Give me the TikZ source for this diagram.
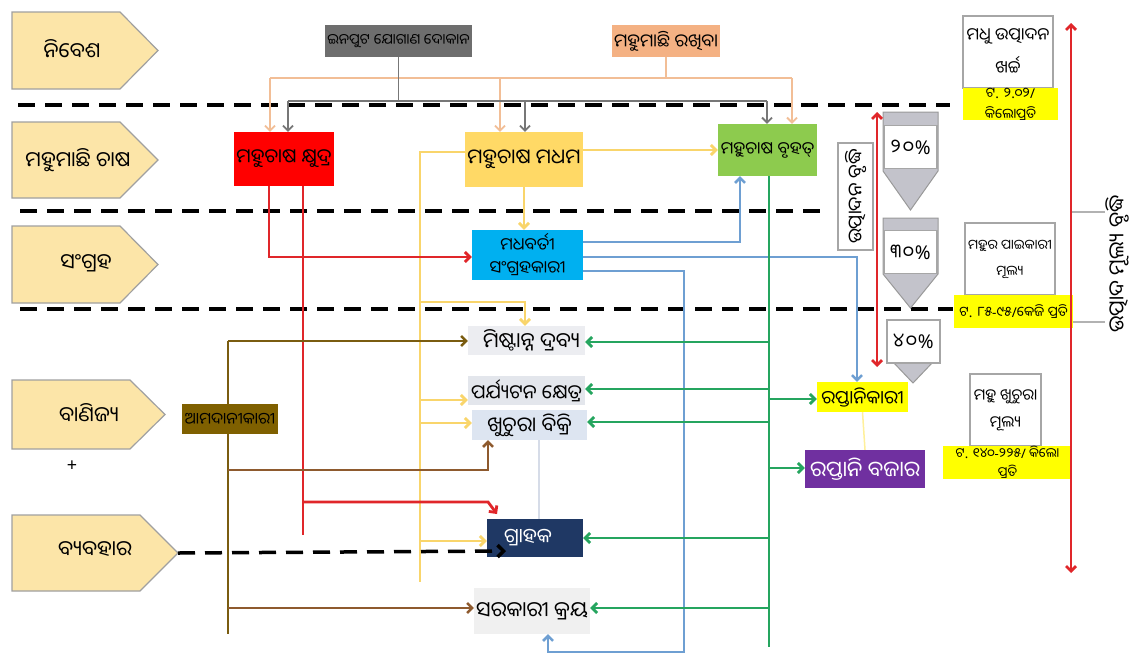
\documentclass[tikz,border=0pt]{standalone}
\usepackage{fontspec}
\setmainfont{Noto Sans}
\newfontfamily\od[Script=Oriya]{Noto Sans Oriya UI}
\newfontfamily\lat{Noto Sans}
\usetikzlibrary{arrows.meta}
\pgfdeclarelayer{bg}
\pgfsetlayers{bg,main}
\newcommand\fsz[2]{\fontsize{#1}{#2}\selectfont}
\newcommand\Ppct{{\lat\%}}
\newcommand\Pdot{{\lat.}}
\newcommand\Psl{{\lat/}}
\newcommand\Phy{{\lat-}}
\definecolor{pentfill}{HTML}{FCE5A8}
\definecolor{pentdraw}{HTML}{A0A0A0}
\definecolor{cinp}{HTML}{6E6E6E}
\definecolor{ckeep}{HTML}{F4B183}
\definecolor{cred}{HTML}{FF0000}
\definecolor{cmed}{HTML}{FFD966}
\definecolor{clarge}{HTML}{8DCB4E}
\definecolor{ccoll}{HTML}{00B0F0}
\definecolor{cmist}{HTML}{ECEDF1}
\definecolor{ctour}{HTML}{E3E6EC}
\definecolor{cret}{HTML}{DDE5F1}
\definecolor{cgrahak}{HTML}{1F3864}
\definecolor{cgovt}{HTML}{F0F0F0}
\definecolor{cimp}{HTML}{7F6000}
\definecolor{cexp}{HTML}{FFFF00}
\definecolor{cexpm}{HTML}{7030A0}
\definecolor{cchev}{HTML}{C3C3CB}
\definecolor{lorange}{HTML}{F2BE96}
\definecolor{lgray}{HTML}{777777}
\definecolor{lyel}{HTML}{F9D56B}
\definecolor{lred}{HTML}{E0262A}
\definecolor{lgreen}{HTML}{25A55F}
\definecolor{lblue}{HTML}{6E9FD2}
\definecolor{lolive}{HTML}{7A5C10}
\definecolor{lbrown}{HTML}{8E5A2E}
\definecolor{llight}{HTML}{D6DCE8}
\definecolor{llyel}{HTML}{FFF09A}
\begin{document}
\begin{tikzpicture}[x=1pt,y=-1pt,
  >={Straight Barb[length=5pt,width=10pt]},
  pent/.style={fill=pentfill,draw=pentdraw,line width=1.2pt},
  lbl/.style={font=\od\fsz{21}{25},inner sep=0pt},
  bx/.style={inner sep=0pt,align=center},
  wbox/.style={bx,draw=gray!70,line width=1.2pt,fill=white},
  ybox/.style={bx,fill=cexp},
  dsh/.style={line width=3.5pt,dash pattern=on 17pt off 10pt},
  orl/.style={draw=lorange,line width=1.8pt},
  gyl/.style={draw=lgray,line width=1.8pt},
  yl/.style={draw=lyel,line width=2.8pt},
  rdl/.style={draw=lred,line width=2.8pt},
  gnl/.style={draw=lgreen,line width=2.8pt},
  bll/.style={draw=lblue,line width=2.5pt},
  oll/.style={draw=lolive,line width=2.5pt},
  brl/.style={draw=lbrown,line width=2.5pt},
  chev/.style={fill=cchev,draw=gray!80,line width=1pt},
]
\useasboundingbox (0,0) rectangle (1142,659);
\begin{pgfonlayer}{bg}
\fill[white] (0,0) rectangle (1142,659);
\end{pgfonlayer}

% left stage labels
\draw[pent] (12,12) -- (120,12) -- (158,50.5) -- (120,89) -- (12,89) -- cycle;
\draw[pent] (12,122) -- (120,122) -- (158,160) -- (120,198) -- (12,198) -- cycle;
\draw[pent] (12,226) -- (120,226) -- (158,264.5) -- (120,303) -- (12,303) -- cycle;
\draw[pent] (12,380) -- (130,380) -- (165,414.5) -- (130,449) -- (12,449) -- cycle;
\draw[pent] (12,515) -- (140,515) -- (178,553) -- (140,591) -- (12,591) -- cycle;
\coordinate (p5tip) at (178,553);
\node[lbl] (n1) at (72,50) {ନିବେଶ};
\node[lbl] (n2) at (78,160) {ମହୁମାଛି ଚାଷ};
\node[lbl] (n3) at (86,263) {ସଂଗ୍ରହ};
\node[lbl] (n4) at (89,413) {ବାଣିଜ୍ୟ};
\node[lbl] (n5) at (95,550) {ବ୍ୟବହାର};
\node[font=\lat\fsz{18}{20}] (plus) at (72,466) {+};

% nodes
\node[bx,fill=cinp,minimum width=147pt,minimum height=32pt,font=\od\fsz{14.5}{17}] (inp) at (398.5,41) {ଇନପୁଟ ଯୋଗାଣ ଦୋକାନ};
\node[bx,fill=ckeep,minimum width=108pt,minimum height=32pt,font=\od\fsz{18}{21}] (keep) at (666,41) {ମହୁମାଛି ରଖିବା};
\node[bx,fill=cred,minimum width=100pt,minimum height=54pt,font=\od\fsz{19.5}{23}] (small) at (284,159) {ମହୁଚାଷ କ୍ଷୁଦ୍ର};
\node[bx,fill=cmed,minimum width=118pt,minimum height=55pt,font=\od\fsz{20.5}{24}] (med) at (524,159.5) {ମହୁଚାଷ ମଧମ};
\node[bx,fill=clarge,minimum width=99pt,minimum height=52pt,font=\od\fsz{17}{20}] (large) at (767.5,150) {ମହୁଚାଷ ବୃହତ୍};
\node[bx,fill=ccoll,minimum width=111pt,minimum height=50pt,font=\od\fsz{17}{23}] (coll) at (527.5,255) {ମଧବର୍ତୀ\\ସଂଗ୍ରହକାରୀ};
\node[bx,fill=cmist,minimum width=117pt,minimum height=29pt,font=\od\fsz{21}{24}] (mist) at (526.5,340.5) {\hspace*{10pt}ମିଷ୍ଟାନ୍ନ ଦ୍ରବ୍ୟ};
\node[bx,fill=ctour,minimum width=117pt,minimum height=29pt,font=\od\fsz{19.5}{23}] (tour) at (526.5,390.5) {ପର୍ଯ୍ୟଟନ କ୍ଷେତ୍ର};
\node[bx,fill=cret,minimum width=115pt,minimum height=30pt,font=\od\fsz{20.5}{24}] (ret) at (529.5,425) {ଖୁଚୁରା ବିକ୍ରି};
\node[bx,fill=cgrahak,minimum width=96pt,minimum height=38pt,font=\od\fsz{20}{23},text=white] (grahak) at (535,538) {ଗ୍ରାହକ\hspace*{14pt}};
\node[bx,fill=cgovt,minimum width=116pt,minimum height=46pt,font=\od\fsz{21}{24}] (govt) at (532,611) {ସରକାରୀ କ୍ରୟ};
\node[bx,fill=cimp,minimum width=96pt,minimum height=30pt,font=\od\fsz{16}{19}] (imp) at (230,419) {ଆମଦାନୀକାରୀ};
\node[bx,fill=cexp,minimum width=91pt,minimum height=30pt,font=\od\fsz{18.5}{22}] (exp) at (862.5,397) {ରପ୍ତାନିକାରୀ};
\node[bx,fill=cexpm,minimum width=120pt,minimum height=38pt,font=\od\fsz{21.5}{25},text=white] (expm) at (865,469) {ରପ୍ତାନି ବଜାର};

% right info boxes
\node[wbox,minimum width=90pt,minimum height=72pt,font=\od\fsz{17}{33}] (cost) at (1008,52) {ମଧୁ ଉତ୍ପାଦନ\\ଖର୍ଚ୍ଚ};
\node[ybox,minimum width=95pt,minimum height=32pt,font=\od\fsz{13.5}{21}] (costp) at (1010.5,104) {ଟ\Pdot{} ୨\Pdot୦୨\Psl\\କିଲୋପ୍ରତି};
\node[wbox,minimum width=90pt,minimum height=72pt,font=\od\fsz{13.5}{26}] (whole) at (1010,259) {ମହୁର ପାଇକାରୀ\\ମୂଲ୍ୟ};
\node[ybox,minimum width=119pt,minimum height=33pt,font=\od\fsz{13.5}{16}] (wholep) at (1013.5,311.5) {ଟ\Pdot{} ୮୫\Phy୯୫\Psl କେଜି ପ୍ରତି};
\node[wbox,minimum width=71pt,minimum height=72pt,font=\od\fsz{15.5}{27}] (retail) at (1005.5,410) {ମହୁ ଖୁଚୁରା\\ମୂଲ୍ୟ};
\node[ybox,minimum width=129pt,minimum height=31pt,font=\od\fsz{13}{19}] (retailp) at (1007.5,462.5) {ଟ\Pdot{} ୧୪୦\Phy୨୨୫\Psl{} କିଲୋ\\ପ୍ରତି};

% production increase box
\node[wbox,minimum width=107pt,minimum height=35pt,rotate=90,font=\od\fsz{19}{22}] (prod) at (855.5,196.5) {ଉତ୍ପାଦନ ବୃଦ୍ଧି};

% chevrons
\draw[chev] (883,112) -- (938,112) -- (938,171) -- (910.5,210) -- (883,171) -- cycle;
\node[wbox,minimum width=53pt,minimum height=43pt,font=\od\fsz{19}{22}] (pc1) at (910.5,147) {୨\kern2pt୦\kern1pt\Ppct};
\draw[chev] (883,218) -- (938,218) -- (938,274) -- (910.5,308) -- (883,274) -- cycle;
\node[wbox,minimum width=53pt,minimum height=43pt,font=\od\fsz{19}{22}] (pc2) at (910.5,252) {୩\kern2pt୦\kern1pt\Ppct};
\draw[chev] (893,362) -- (933,362) -- (913,383) -- cycle;
\node[wbox,minimum width=53pt,minimum height=43pt,font=\od\fsz{19}{22}] (pc3) at (913.5,341.5) {୪\kern2pt୦\kern1pt\Ppct};

% right value label
\node[font=\od\fsz{21}{24},rotate=90,inner sep=0pt] (val) at (1117,264) {ଉତ୍ପାଦ ମୂଲ୍ୟ ବୃଦ୍ଧି};

\begin{pgfonlayer}{bg}
% dashed separators
\draw[dsh] (18,105) -- (950,105);
\draw[dsh] (20,211) -- (820,211);
\draw[dsh] (20,309) -- (953,309);

% orange supply lines
\coordinate (oL) at (270,78);
\coordinate (oM) at (500,78);
\coordinate (oR) at (792,78);
\draw[orl] (oL) -- (oR);
\draw[orl] (keep.south) -- (keep.south |- oL);
\draw[orl,->] (oL) -- (oL |- small.north);
\draw[orl,->] (oM) -- (oM |- med.north);
\draw[orl,->] (oR) -- (oR |- large.north);
% gray input lines
\coordinate (gL) at (288,101);
\coordinate (gM) at (525,101);
\coordinate (gR) at (767,101);
\draw[gyl] (gL) -- (gR);
\draw[gyl] (inp.south) -- (inp.south |- gL);
\draw[gyl,->] (gL) -- (gL |- small.north);
\draw[gyl,->] (gM) -- (gM |- med.north);
\draw[gyl,->] (gR) -- (gR |- large.north);

% yellow (medium farmer)
\draw[yl,->] (large.west -| med.east) -- (large.west);
\draw[yl,->] (med.south) -- (med.south |- coll.north);
\coordinate (yT) at (420,152);
\coordinate (yB) at (420,582);
\coordinate (y1) at (420,302);
\coordinate (y1r) at (525,302);
\coordinate (y2) at (420,400);
\coordinate (y3) at (420,423);
\coordinate (y4) at (420,541);
\draw[yl] (yT -| med.west) -- (yT) -- (yB);
\draw[yl,->] (y1) -- (y1r) -- (y1r |- mist.north);
\draw[yl,->] (y2) -- (y2 -| tour.west);
\draw[yl,->] (y3) -- (y3 -| ret.west);
\draw[yl,->] (y4) -- (y4 -| grahak.west);

% red (small farmer)
\coordinate (r1) at (269,257);
\draw[rdl,->] (r1 |- small.south) -- (r1) -- (r1 -| coll.west);
\coordinate (r2) at (303,502);
\coordinate (r2b) at (303,535);
\coordinate (r2c) at (488,502);
\coordinate (r2d) at (497,514);
\draw[rdl] (r2 |- small.south) -- (r2b);
\draw[rdl,->] (r2) -- (r2c) -- (r2d);

% blue (collector)
\coordinate (b1) at (740,242);
\draw[bll,->] (b1 -| coll.east) -- (b1) -- (b1 |- large.south);
\coordinate (b2) at (857,257);
\draw[bll,->] (b2 -| coll.east) -- (b2) -- (b2 |- exp.north);
\coordinate (b3) at (684,271);
\coordinate (b4) at (684,652);
\coordinate (b5) at (548,652);
\draw[bll,->] (b3 -| coll.east) -- (b3) -- (b4) -- (b5) -- (b5 |- govt.south);

% green (large farmer)
\coordinate (gB) at (769,647);
\coordinate (gT) at (769,176);
\draw[gnl] (gT) -- (gB);
\coordinate (g1) at (769,342);
\coordinate (g2) at (769,389);
\coordinate (g3) at (769,399);
\coordinate (g4) at (769,422);
\coordinate (g5) at (769,468);
\coordinate (g6) at (769,538);
\coordinate (g7) at (769,608);
\draw[gnl,->] (g1) -- (g1 -| mist.east);
\draw[gnl,->] (g2) -- (g2 -| tour.east);
\draw[gnl,->] (g3) -- (g3 -| exp.west);
\draw[gnl,->] (g4) -- (g4 -| ret.east);
\draw[gnl,->] (g5) -- (g5 -| expm.west);
\draw[gnl,->] (g6) -- (g6 -| grahak.east);
\draw[gnl,->] (g7) -- (g7 -| govt.east);

% importer
\coordinate (i1) at (228,341);
\coordinate (i2) at (228,634);
\coordinate (i3) at (228,470);
\coordinate (i3r) at (488,470);
\coordinate (i4) at (228,608);
\draw[oll] (i1) -- (i2);
\draw[oll,->] (i1) -- (i1 -| mist.west);
\draw[brl,->] (i3) -- (i3r) -- (i3r |- ret.south);
\draw[brl,->] (i4) -- (i4 -| govt.west);

% light links
\coordinate (lr) at (539,440);
\draw[draw=llight,line width=1.5pt] (lr |- ret.south) -- (lr |- grahak.north);
\draw[draw=llyel,line width=1.5pt] (exp.south) -- (expm.north);

% right bracket lines
\draw[gray!60,line width=1.5pt] (1072,212) -- (1105,212);
\draw[gray!60,line width=1.5pt] (1072,322) -- (1105,322);
\end{pgfonlayer}

% red double arrows
\draw[rdl,<->] (877,112) -- (877,367);
\draw[rdl,<->] (1071,23) -- (1071,573);

% consumption dashed arrow
\coordinate (d4e) at (506,551);
\draw[dsh,-{Straight Barb[length=6pt,width=12pt]}] (p5tip) -- (d4e);
\end{tikzpicture}
\end{document}
